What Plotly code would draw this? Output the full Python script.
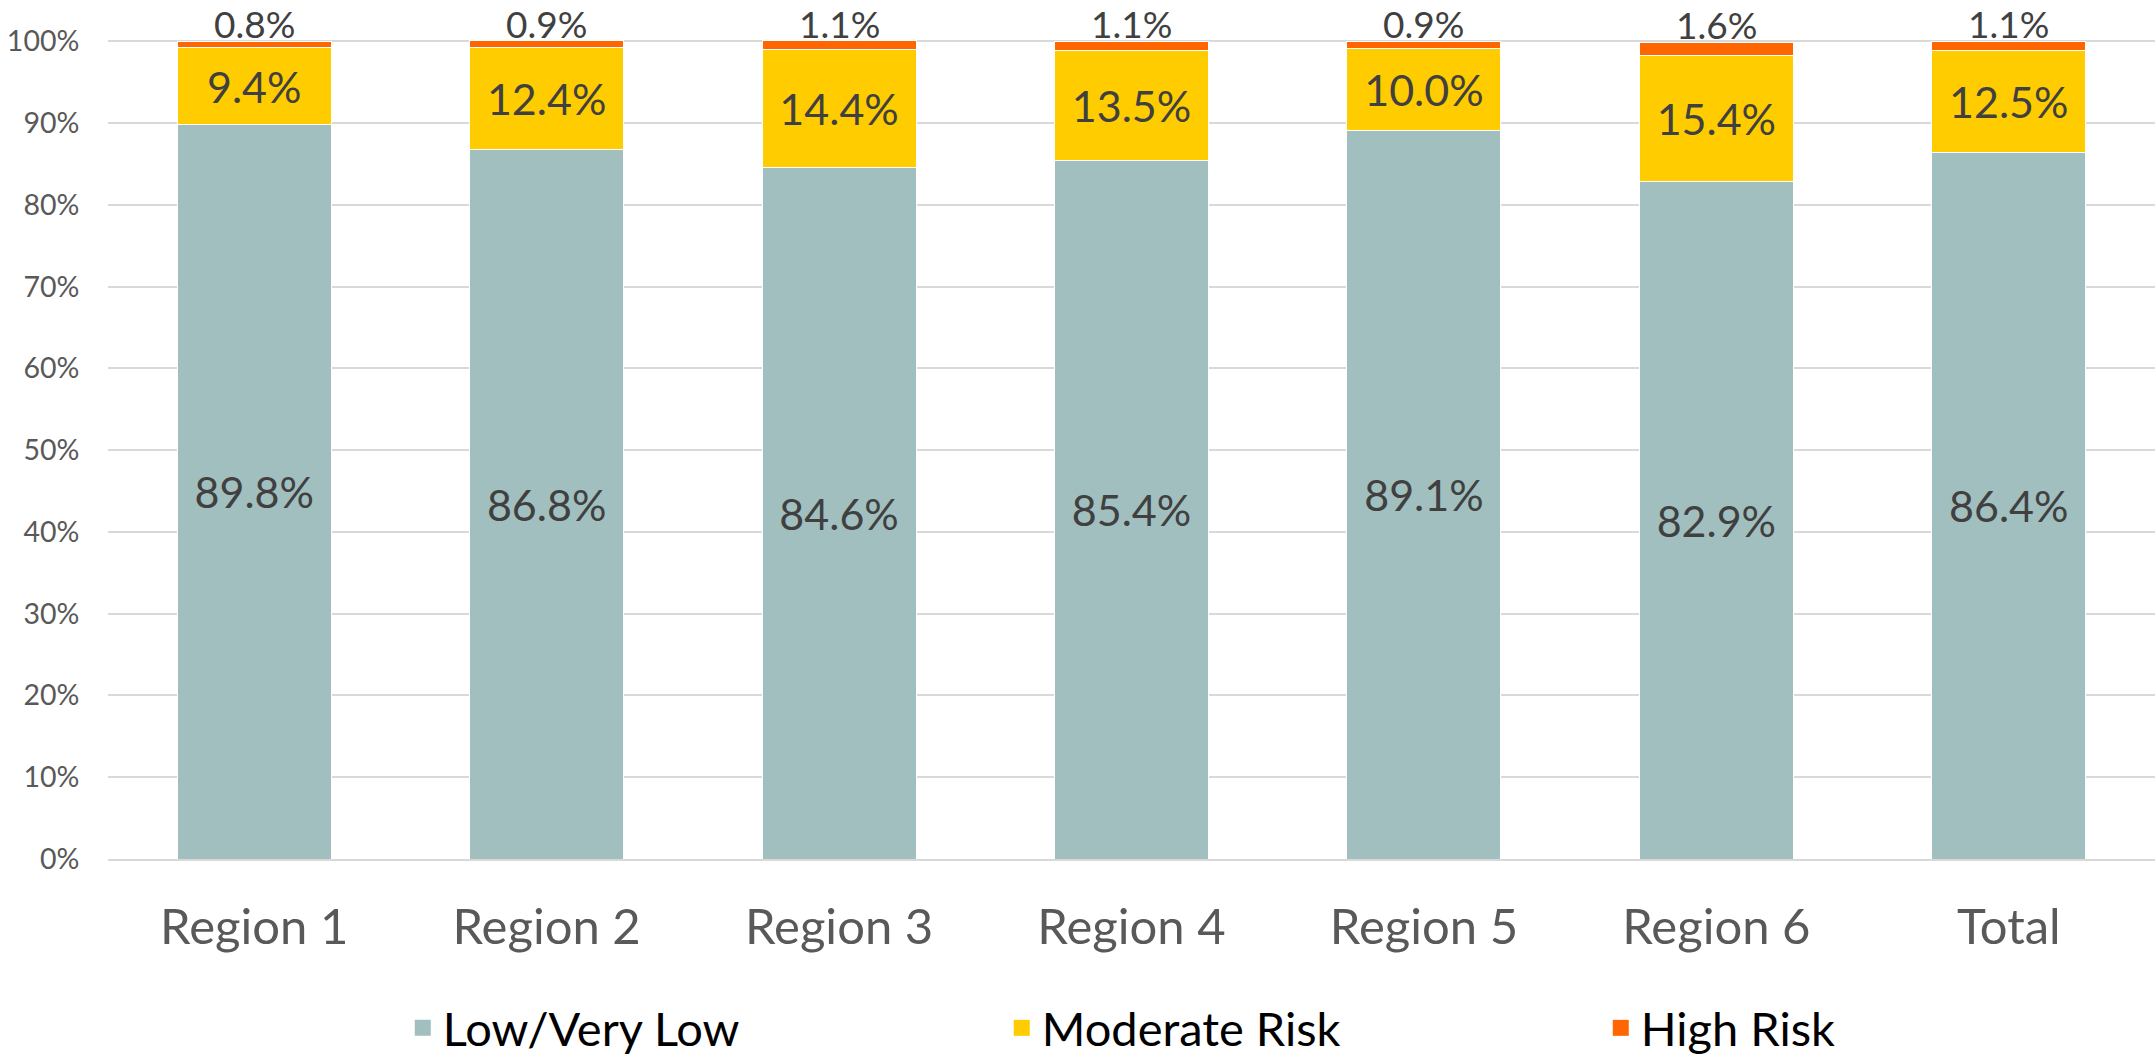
import plotly.graph_objects as go

categories = ["Region 1", "Region 2", "Region 3", "Region 4", "Region 5", "Region 6", "Total"]
low = [89.8, 86.8, 84.6, 85.4, 89.1, 82.9, 86.4]
moderate = [9.4, 12.4, 14.4, 13.5, 10.0, 15.4, 12.5]
high = [0.8, 0.9, 1.1, 1.1, 0.9, 1.6, 1.1]
series_names = ["Low/Very Low", "Moderate Risk", "High Risk"]
series_colors = ["#A0BFBE", "#FFCC00", "#FF6600"]
y_tick_vals = [0, 10, 20, 30, 40, 50, 60, 70, 80, 90, 100]
y_tick_text = ["0%", "10%", "20%", "30%", "40%", "50%", "60%", "70%", "80%", "90%", "100%"]

FONT = "Lato, Carlito, Calibri, sans-serif"
txt_color = "#404040"

fig = go.Figure()
for vals, name, color, show_text in zip([low, moderate, high], series_names, series_colors,
                                         [True, True, False]):
    fig.add_trace(go.Bar(
        x=categories, y=vals, name=name, showlegend=False,
        marker=dict(color=color, line=dict(color="white", width=1)),
        text=[f"{v:.1f}%" for v in vals] if show_text else None,
        textposition="inside" if show_text else "none",
        insidetextanchor="middle",
        textfont=dict(size=43, color=txt_color, family=FONT),
        cliponaxis=False, hoverinfo="skip",
    ))

# High-risk value labels above each bar
totals = [a + b + c for a, b, c in zip(low, moderate, high)]
for cat, tot, h in zip(categories, totals, high):
    fig.add_annotation(
        x=cat, y=min(tot, 100), xref="x", yref="y",
        text=f"{h:.1f}%", showarrow=False,
        yanchor="middle", yshift=18, borderpad=0,
        font=dict(size=37, color=txt_color, family=FONT),
    )

# legend entries with square swatches
for name, color in zip(series_names, series_colors):
    fig.add_trace(go.Scatter(
        x=[None], y=[None], mode="markers", name=name,
        marker=dict(symbol="square", size=30, color=color),
        showlegend=True,
    ))

fig.update_layout(
    width=2156, height=1059,
    barmode="stack", bargap=0.473,
    plot_bgcolor="white", paper_bgcolor="white",
    margin=dict(l=108, r=1, t=40, b=200, autoexpand=False),
    font=dict(family=FONT, color="#595959"),
    legend=dict(
        orientation="h", xref="paper", x=0.144, xanchor="left",
        yref="container", y=0.029, yanchor="middle",
        font=dict(size=47, color="#000000", family=FONT),
        entrywidth=554, entrywidthmode="pixels",
        traceorder="normal", itemsizing="trace",
    ),
    showlegend=True,
    hovermode=False,
)
fig.update_yaxes(
    range=[0, 100.15], tickvals=y_tick_vals, ticktext=y_tick_text, automargin=False,
    showgrid=True, gridcolor="#D9D9D9", gridwidth=2,
    zeroline=False, showline=False,
    ticks="outside", ticklen=22, tickcolor="rgba(0,0,0,0)",
    tickfont=dict(size=28.5, color="#595959", family=FONT),
)
fig.update_xaxes(
    automargin=False,
    showline=True, linecolor="#D9D9D9", linewidth=2,
    ticks="outside", ticklen=24, tickcolor="rgba(0,0,0,0)",
    tickfont=dict(size=49, color="#595959", family=FONT),
)

fig.write_html("out.html", config={"displayModeBar": False},
               post_script="document.body.style.margin='0';")
